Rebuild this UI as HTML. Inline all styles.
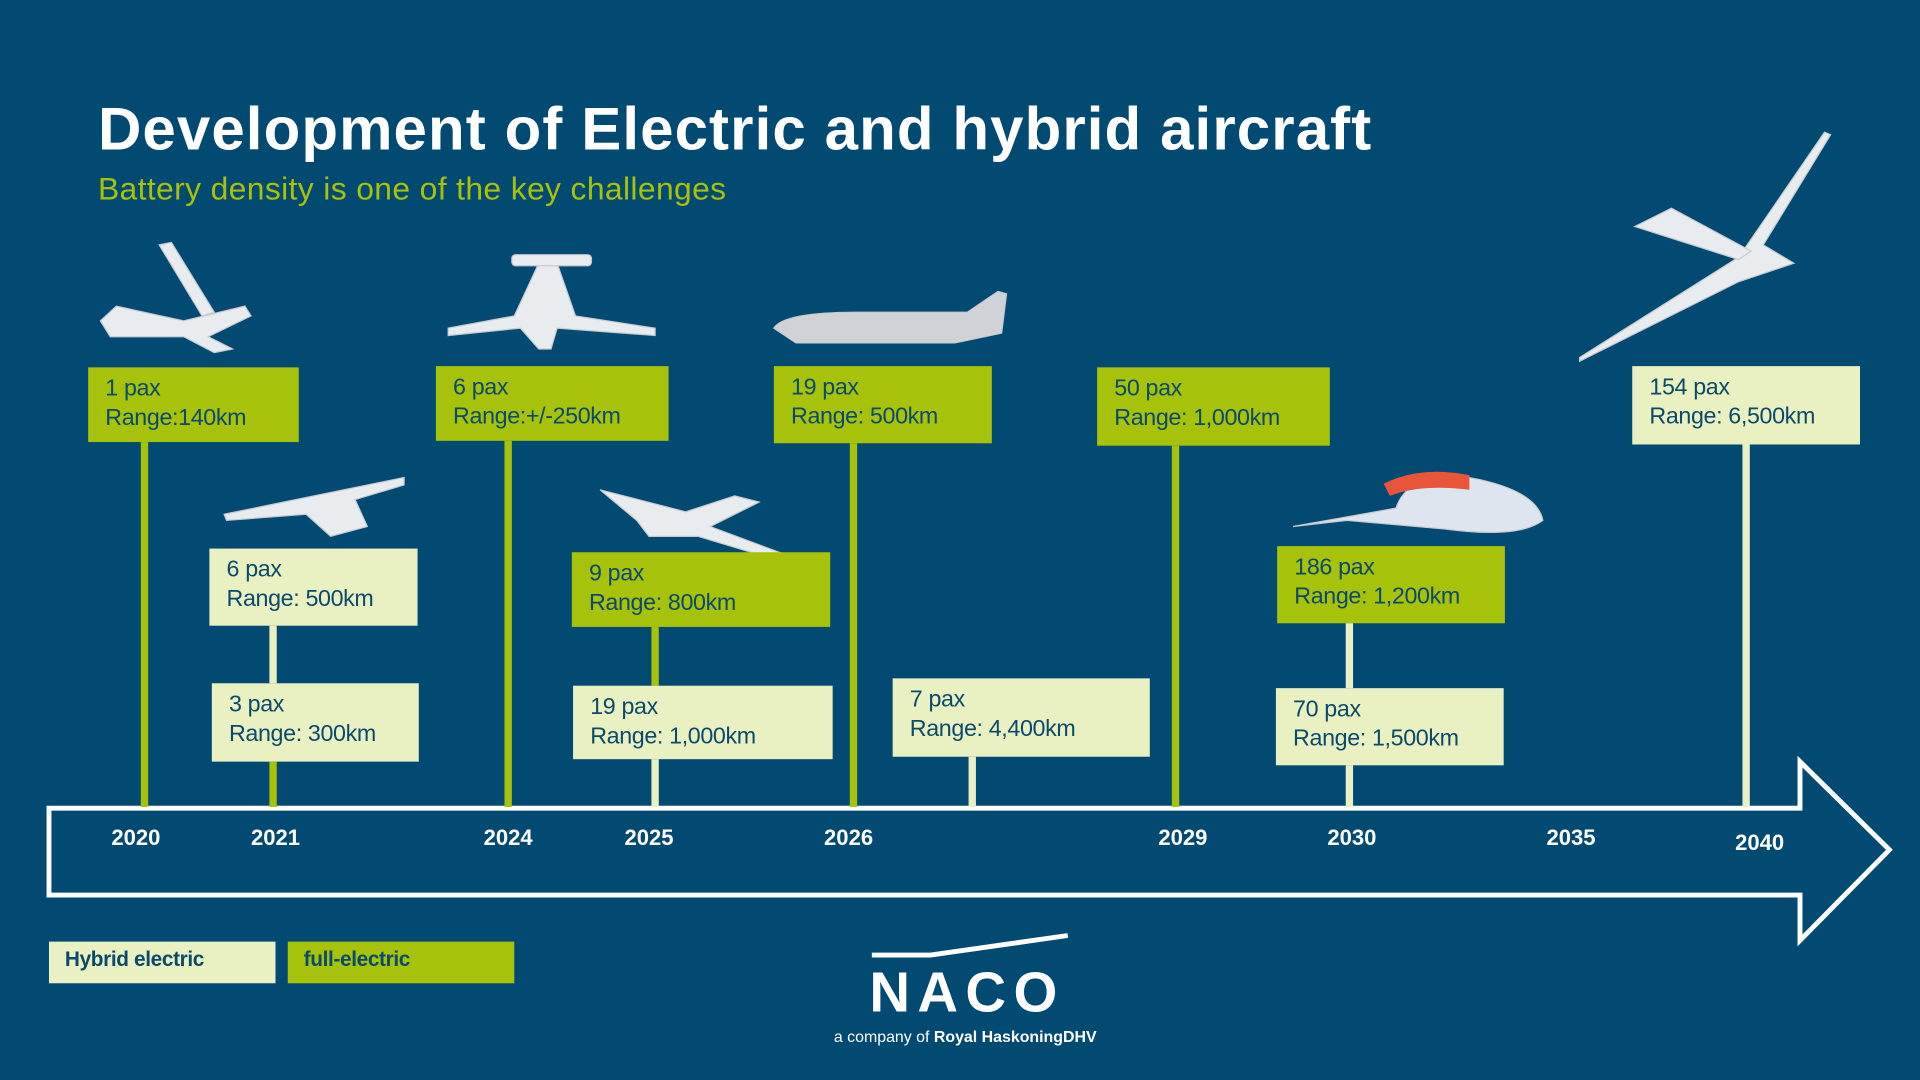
<!DOCTYPE html>
<html><head><meta charset="utf-8"><style>
html,body{margin:0;padding:0;width:1920px;height:1080px;overflow:hidden;background:#024a72}
#s{position:absolute;left:0;top:0;width:1568px;height:882px;transform:scale(1.22449);transform-origin:0 0;font-family:"Liberation Sans",sans-serif}
.b{position:absolute;box-sizing:border-box;padding:6px 0 0 14px;color:#0b4a6a;font-size:19px;line-height:24px;letter-spacing:-0.3px}
.g{background:#a7c20a}.l{background:#e9f1c3}
.v{position:absolute;width:6px}
.y{position:absolute;top:674px;color:#fff;font-weight:bold;font-size:18px;transform:translateX(-50%)}
</style></head><body><div id="s">
<div style="position:absolute;left:80px;top:78px;color:#fff;font-weight:bold;font-size:49px;letter-spacing:0.9px">Development of Electric and hybrid aircraft</div>
<div style="position:absolute;left:80px;top:139px;color:#a7c20a;font-size:26px;letter-spacing:0.3px">Battery density is one of the key challenges</div>

<svg width="1568" height="882" style="position:absolute;left:0;top:0">
<path d="M40 660 H1470 V622 L1543 694 L1470 768 V731 H40 Z" fill="none" stroke="#fff" stroke-width="4"/>
<g fill="#e8ecef" stroke="#c8ccd0" stroke-width="1">
<path d="M82 262 L95 250 L150 262 L200 250 L205 258 L170 275 L190 285 L175 288 L150 275 L90 275 Z"/>
<path d="M130 200 L140 198 L175 255 L165 258 Z"/>
<path d="M183 420 L330 390 L330 396 L290 408 L300 430 L270 438 L250 420 L185 425 Z"/>
<path d="M366 268 L420 258 L440 215 L455 215 L470 258 L535 268 L535 274 L455 268 L450 285 L440 285 L425 268 L366 274 Z"/>
<rect x="418" y="208" width="65" height="9" rx="3"/>
<path d="M632 268 Q640 255 700 255 L790 255 L815 238 L822 240 L818 272 L780 280 L650 280 Z" fill="#cfd3d8"/>
<path d="M490 400 L560 418 L600 405 L620 410 L580 430 L655 458 L650 462 L570 438 L530 438 L520 425 Z"/>
<path d="M1056 430 L1140 415 Q1150 385 1200 390 Q1255 400 1260 425 Q1240 440 1180 432 L1100 425 Z" fill="#dfe5ee"/>
<path d="M1130 395 Q1160 380 1200 388 L1200 400 Q1160 395 1135 405 Z" fill="#e8553a" stroke="none"/>
<path d="M1290 292 L1420 210 L1490 108 L1495 110 L1440 200 L1465 215 L1420 230 L1290 295 Z"/>
<path d="M1335 185 L1365 170 L1430 205 L1420 212 Z"/>
</g>
<path d="M712 780 L760 780 L872 764" fill="none" stroke="#fff" stroke-width="4"/>
</svg>

<div class="b g" style="left:72px;top:300px;width:172px;height:61px">1 pax<br>Range:140km</div>
<div class="v" style="left:115px;top:361px;height:298px;background:#a7c20a"></div>
<div class="b l" style="left:171px;top:448px;width:170px;height:63px">6 pax<br>Range: 500km</div>
<div class="v" style="left:220px;top:511px;height:47px;background:#e9f1c3"></div>
<div class="b l" style="left:173px;top:558px;width:169px;height:64px">3 pax<br>Range: 300km</div>
<div class="v" style="left:220px;top:622px;height:37px;background:#a7c20a"></div>
<div class="b g" style="left:356px;top:299px;width:190px;height:61px">6 pax<br>Range:+/-250km</div>
<div class="v" style="left:412px;top:360px;height:299px;background:#a7c20a"></div>
<div class="b g" style="left:467px;top:451px;width:211px;height:61px">9 pax<br>Range: 800km</div>
<div class="v" style="left:532px;top:512px;height:48px;background:#a7c20a"></div>
<div class="b l" style="left:468px;top:560px;width:212px;height:60px">19 pax<br>Range: 1,000km</div>
<div class="v" style="left:532px;top:620px;height:39px;background:#e9f1c3"></div>
<div class="b g" style="left:632px;top:299px;width:178px;height:63px">19 pax<br>Range: 500km</div>
<div class="v" style="left:694px;top:362px;height:297px;background:#a7c20a"></div>
<div class="b l" style="left:729px;top:554px;width:210px;height:64px">7 pax<br>Range: 4,400km</div>
<div class="v" style="left:791px;top:618px;height:41px;background:#e9f1c3"></div>
<div class="b g" style="left:896px;top:300px;width:190px;height:64px">50 pax<br>Range: 1,000km</div>
<div class="v" style="left:957px;top:364px;height:295px;background:#a7c20a"></div>
<div class="b g" style="left:1043px;top:446px;width:186px;height:63px">186 pax<br>Range: 1,200km</div>
<div class="v" style="left:1099px;top:509px;height:53px;background:#e9f1c3"></div>
<div class="b l" style="left:1042px;top:562px;width:186px;height:63px">70 pax<br>Range: 1,500km</div>
<div class="v" style="left:1099px;top:625px;height:34px;background:#e9f1c3"></div>
<div class="b l" style="left:1333px;top:299px;width:186px;height:64px">154 pax<br>Range: 6,500km</div>
<div class="v" style="left:1423px;top:363px;height:296px;background:#e9f1c3"></div>

<div class="y" style="left:111px">2020</div>
<div class="y" style="left:225px">2021</div>
<div class="y" style="left:415px">2024</div>
<div class="y" style="left:530px">2025</div>
<div class="y" style="left:693px">2026</div>
<div class="y" style="left:966px">2029</div>
<div class="y" style="left:1104px">2030</div>
<div class="y" style="left:1283px">2035</div>
<div class="y" style="left:1437px;top:678px">2040</div>

<div class="b l" style="left:40px;top:769px;width:185px;height:34px;padding:3px 0 0 13px;font-weight:bold;font-size:17px">Hybrid electric</div>
<div class="b g" style="left:235px;top:769px;width:185px;height:34px;padding:3px 0 0 13px;font-weight:bold;font-size:17px">full-electric</div>

<div style="position:absolute;left:710px;top:787px;color:#fff;font-weight:bold;font-size:46px;line-height:46px;letter-spacing:6px">NACO</div>
<div style="position:absolute;left:681px;top:839px;color:#fff;font-size:13px">a company of <b>Royal HaskoningDHV</b></div>
</div></body></html>
